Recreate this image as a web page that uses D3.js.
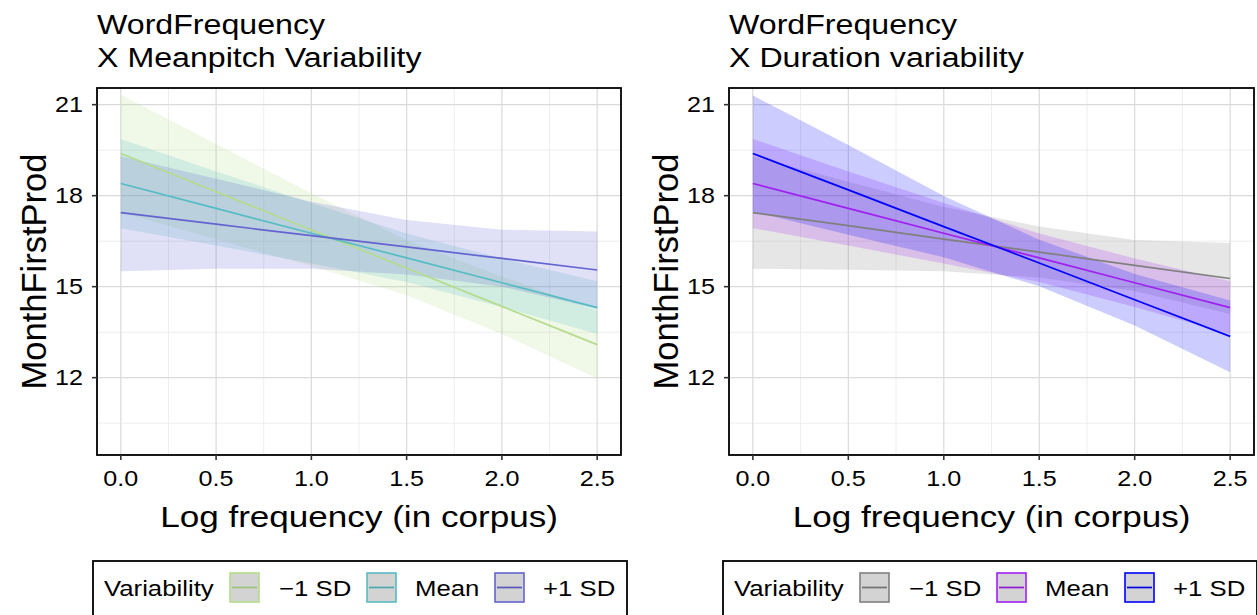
<!DOCTYPE html>
<html><head><meta charset="utf-8">
<script src="https://cdn.jsdelivr.net/npm/d3@7"></script>
<style>html,body{margin:0;padding:0;background:#fff;}svg{display:block;}</style>
</head><body>
<svg id="chart" width="1257" height="615"></svg>
<script>
// ---- data ----
const xValues = [0, 0.5, 1, 1.5, 2, 2.5];
const xTicks = [0, 0.5, 1, 1.5, 2, 2.5];
const xTickLabels = ["0.0", "0.5", "1.0", "1.5", "2.0", "2.5"];
const yTicks = [12, 15, 18, 21];
const yTickLabels = ["12", "15", "18", "21"];
const levels = ["\u22121 SD", "Mean", "+1 SD"];

// Panel 1: Meanpitch variability
const pitchLowFit   = [19.39, 18.13, 16.87, 15.61, 14.35, 13.09];
const pitchLowUpper = [21.33, 19.70, 18.08, 16.53, 15.33, 14.21];
const pitchLowLower = [17.45, 16.56, 15.68, 14.72, 13.44, 11.97];
const pitchMeanFit   = [18.40, 17.58, 16.76, 15.95, 15.13, 14.31];
const pitchMeanUpper = [19.87, 18.80, 17.76, 16.75, 15.93, 15.18];
const pitchMeanLower = [16.93, 16.36, 15.76, 15.15, 14.33, 13.44];
const pitchHighFit   = [17.44, 17.06, 16.68, 16.31, 15.93, 15.55];
const pitchHighUpper = [19.30, 18.56, 17.80, 17.20, 16.88, 16.82];
const pitchHighLower = [15.51, 15.59, 15.59, 15.40, 15.00, 14.27];

// Panel 2: Duration variability
const durLowFit   = [17.44, 17.01, 16.57, 16.14, 15.70, 15.27];
const durLowUpper = [19.29, 18.46, 17.63, 16.98, 16.54, 16.44];
const durLowLower = [15.59, 15.56, 15.51, 15.30, 14.86, 14.10];
const durMeanFit   = [18.40, 17.58, 16.76, 15.95, 15.13, 14.31];
const durMeanUpper = [19.87, 18.80, 17.76, 16.75, 15.93, 15.18];
const durMeanLower = [16.93, 16.36, 15.76, 15.15, 14.33, 13.44];
const durHighFit   = [19.39, 18.19, 16.98, 15.78, 14.57, 13.36];
const durHighUpper = [21.30, 19.67, 17.99, 16.55, 15.42, 14.54];
const durHighLower = [17.48, 16.71, 15.97, 15.01, 13.72, 12.18];

const pitchColors = ["#b4dc8c", "#56bcc4", "#6464d0"];
const durColors = ["#808080", "#a020f0", "#0000ff"];

const panels = [
  {title: ["WordFrequency", "X Meanpitch Variability"], colors: pitchColors,
   fits: [pitchLowFit, pitchMeanFit, pitchHighFit],
   uppers: [pitchLowUpper, pitchMeanUpper, pitchHighUpper],
   lowers: [pitchLowLower, pitchMeanLower, pitchHighLower],
   x0: 97, x1: 621, legX: 93},
  {title: ["WordFrequency", "X Duration variability"], colors: durColors,
   fits: [durLowFit, durMeanFit, durHighFit],
   uppers: [durLowUpper, durMeanUpper, durHighUpper],
   lowers: [durLowLower, durMeanLower, durHighLower],
   x0: 729, x1: 1254, legX: 723}
];

// ---- drawing ----
const svg = d3.select("#chart");
const FONT = "Liberation Sans, Arial, Helvetica, sans-serif";
const SX = 1.17;
const panelTop = 88, panelBottom = 455;

function txt(g, x, yy, s, size, anchor, rot, sx) {
  return g.append("text")
    .attr("transform", `translate(${x},${yy}) scale(${sx || SX},1)` + (rot ? ` rotate(${rot})` : ""))
    .attr("text-anchor", anchor || "start")
    .attr("font-family", FONT).attr("font-size", size).attr("fill", "#000")
    .text(s);
}

const y = d3.scaleLinear().domain([9.45, 21.55]).range([panelBottom, panelTop]);

panels.forEach(p => {
  const g = svg.append("g");
  const x = d3.scaleLinear().domain([-0.125, 2.625]).range([p.x0, p.x1]);

  // titles
  txt(g, p.x0, 34, p.title[0], 27.5, "start");
  txt(g, p.x0, 67, p.title[1], 27.5, "start");

  // grid
  const minorX = [0.25, 0.75, 1.25, 1.75, 2.25];
  const minorY = [10.5, 13.5, 16.5, 19.5];
  g.selectAll(".mx").data(minorX).join("line")
    .attr("x1", d => x(d)).attr("x2", d => x(d)).attr("y1", panelTop).attr("y2", panelBottom)
    .attr("stroke", "#ececec").attr("stroke-width", 0.9);
  g.selectAll(".my").data(minorY).join("line")
    .attr("x1", p.x0).attr("x2", p.x1).attr("y1", d => y(d)).attr("y2", d => y(d))
    .attr("stroke", "#ececec").attr("stroke-width", 0.9);
  g.selectAll(".gx").data(xTicks).join("line")
    .attr("x1", d => x(d)).attr("x2", d => x(d)).attr("y1", panelTop).attr("y2", panelBottom)
    .attr("stroke", "#dadada").attr("stroke-width", 1.2);
  g.selectAll(".gy").data(yTicks).join("line")
    .attr("x1", p.x0).attr("x2", p.x1).attr("y1", d => y(d)).attr("y2", d => y(d))
    .attr("stroke", "#dadada").attr("stroke-width", 1.2);

  // ribbons
  p.fits.forEach((f, i) => {
    const pts = xValues.map((xv, k) => ({x: xv, lo: p.lowers[i][k], hi: p.uppers[i][k]}));
    g.append("path").datum(pts)
      .attr("d", d3.area().x(d => x(d.x)).y0(d => y(d.lo)).y1(d => y(d.hi)))
      .attr("fill", p.colors[i]).attr("fill-opacity", 0.2);
  });
  // lines
  p.fits.forEach((f, i) => {
    const pts = xValues.map((xv, k) => ({x: xv, v: f[k]}));
    g.append("path").datum(pts)
      .attr("d", d3.line().x(d => x(d.x)).y(d => y(d.v)))
      .attr("fill", "none").attr("stroke", p.colors[i]).attr("stroke-width", 1.7);
  });

  // border
  g.append("rect").attr("x", p.x0).attr("y", panelTop).attr("width", p.x1 - p.x0).attr("height", panelBottom - panelTop)
    .attr("fill", "none").attr("stroke", "#000").attr("stroke-width", 1.8);

  // axes ticks & labels
  xTicks.forEach((t, i) => {
    g.append("line").attr("x1", x(t)).attr("x2", x(t)).attr("y1", panelBottom).attr("y2", panelBottom + 5)
      .attr("stroke", "#333").attr("stroke-width", 1.6);
    txt(g, x(t), 486, xTickLabels[i], 21.5, "middle");
  });
  yTicks.forEach((t, i) => {
    g.append("line").attr("x1", p.x0 - 5).attr("x2", p.x0).attr("y1", y(t)).attr("y2", y(t))
      .attr("stroke", "#333").attr("stroke-width", 1.6);
    txt(g, p.x0 - 14, y(t) + 7.7, yTickLabels[i], 21.5, "end");
  });

  // axis titles
  txt(g, (p.x0 + p.x1) / 2, 527, "Log frequency (in corpus)", 30, "middle");
  txt(g, p.x0 - 51, (panelTop + panelBottom) / 2, "MonthFirstProd", 34.5, "middle", -90, 1.0);

  // legend
  const lg = g.append("g");
  lg.append("rect").attr("x", p.legX).attr("y", 561).attr("width", 534).attr("height", 60)
    .attr("fill", "#fff").attr("stroke", "#000").attr("stroke-width", 1.8);
  txt(lg, p.legX + 11, 596, "Variability", 22, "start");
  const keyX = [137, 274, 402];
  const labX = [186, 322, 450];
  levels.forEach((lev, i) => {
    const kx = p.legX + keyX[i];
    lg.append("rect").attr("x", kx).attr("y", 573).attr("width", 29).attr("height", 29)
      .attr("fill", "#d3d3d3").attr("stroke", p.colors[i]).attr("stroke-width", 1.6);
    lg.append("line").attr("x1", kx + 2).attr("x2", kx + 27).attr("y1", 587.5).attr("y2", 587.5)
      .attr("stroke", d3.color(p.colors[i]).darker(0.35)).attr("stroke-width", 1.7);
    txt(lg, p.legX + labX[i], 596, lev, 22, "start");
  });
});
</script>
</body></html>
